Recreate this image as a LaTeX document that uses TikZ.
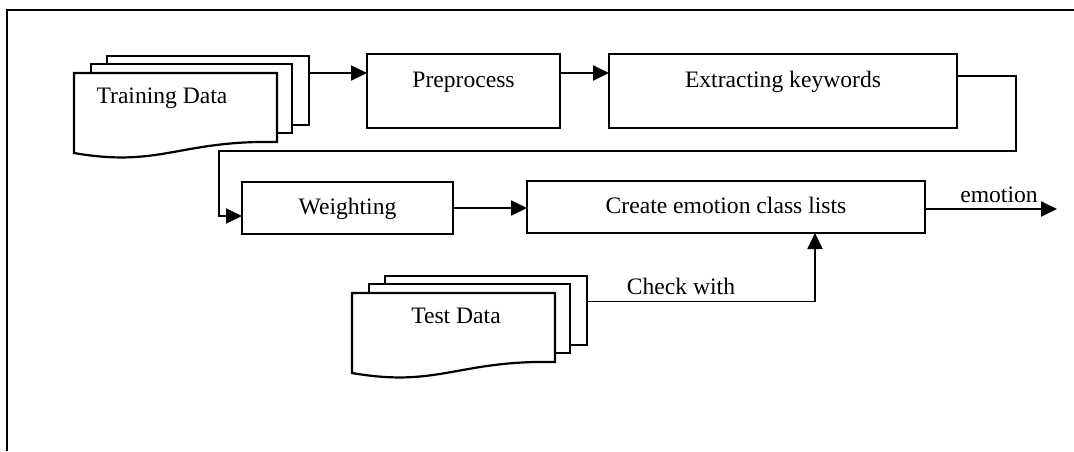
\documentclass[tikz,border=0pt]{standalone}
\usepackage{fontspec}
\setmainfont{Liberation Serif}
\usetikzlibrary{arrows.meta,calc}

\tikzset{
  page/.style={draw, fill=white, line width=2.2pt, inner sep=0pt, outer sep=0pt},
  procbox/.style={draw, line width=2.2pt, inner sep=0pt, outer sep=0pt,
    text height=16pt, text depth=4pt},
  tallbox/.style={procbox, text height=16pt, text depth=24pt},
  arr/.style={line width=1.9pt, -{Triangle[length=16pt,width=15pt]}},
  txt/.style={inner sep=0pt, anchor=base},
  docstack/.pic={
    \node[page, minimum width=202pt, minimum height=69pt, anchor=north west] (-back) at (33,-17) {};
    \node[page, minimum width=201pt, minimum height=69pt, anchor=north west] (-mid) at (17,-9) {};
    \path[page] (0,0) -- (203,0) -- (203,69)
      .. controls (106,67) and (86,95) .. (0,80) -- cycle;
  }
}

\begin{document}
\begin{tikzpicture}[x=1pt, y=-1pt, font=\fontsize{23.6pt}{28pt}\selectfont]
  \useasboundingbox (0,0) rectangle (1074,451);

  % outer frame (left and top edges only)
  \draw[line width=2.2pt] (7,451) -- (7,10) -- (1074,10);

  % document stacks
  \pic (train) at (74,73) {docstack};
  \node[txt] (trainlabel) at (162,103) {Training Data};
  \pic (test) at (352,293) {docstack};
  \node[txt] (testlabel) at (456,323) {Test Data};

  % process boxes
  \node[tallbox, minimum width=193pt, minimum height=74pt] (prep) at (463.5,91) {Preprocess};
  \node[tallbox, minimum width=348pt, minimum height=74pt] (extract) at (783,91) {Extracting keywords};
  \node[procbox, minimum width=211pt, minimum height=52pt] (weight) at (347.5,208) {Weighting};
  \node[procbox, minimum width=398pt, minimum height=52pt] (create) at (726,207) {Create emotion class lists};

  % connectors
  \coordinate (p1) at ([yshift=18pt]prep.west);
  \draw[arr] (p1 -| train-back.east) -- (p1);
  \draw[arr] ([yshift=18pt]prep.east) -- ([yshift=18pt]extract.west);

  \coordinate (r1) at (1016,151);
  \coordinate (r2) at (219,151);
  \draw[arr] ([yshift=15pt]extract.east) -| (r1) -- (r2) |- ([yshift=-8pt]weight.west);

  \draw[arr] (weight.east) -- (weight.east -| create.west);

  \coordinate (out) at (1057,209);
  \draw[arr] (create.east |- out) -- (out);
  \node[txt] (emo) at (999,202) {emotion};

  \draw[arr] ([yshift=9pt]test-back.east) -| ([xshift=89pt]create.south);
  \node[txt] (check) at (681,294) {Check with};
\end{tikzpicture}
\end{document}
